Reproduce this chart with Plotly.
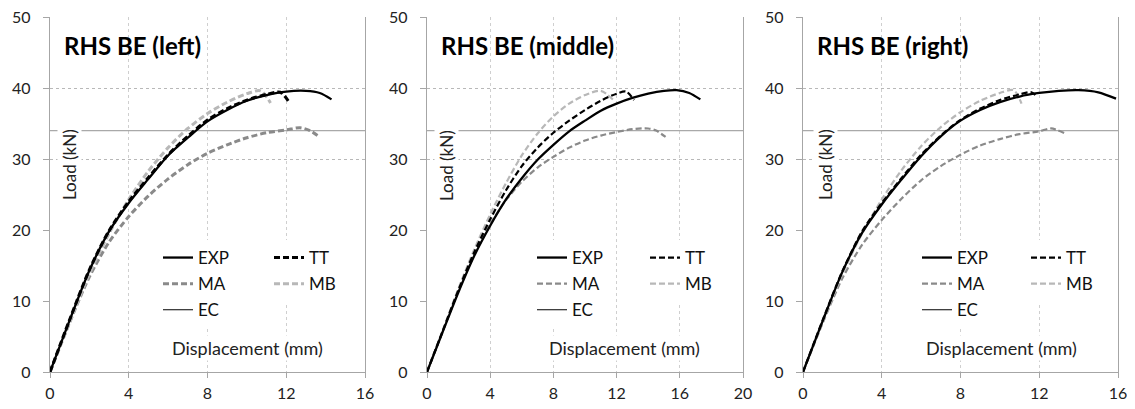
import plotly.graph_objects as go

W, H = 1135, 409          # reference picture size
OFF = 8                   # page body margin offset in the browser
FW, FH = W - OFF, H - OFF # figure size so that figure + page margin fills the window
FONT = "Lato"

# ---------------- data (Displacement mm, Load kN) ----------------
# Panel 1: RHS BE (left)
left_exp_x = [0, 1, 2, 3, 4, 5, 6, 7, 8, 9, 10, 11, 12, 13, 13.7, 14.3]
left_exp_y = [0, 7.3, 14.3, 19.8, 23.8, 27.2, 30.5, 33.0, 35.3, 36.9, 38.2, 39.0, 39.5, 39.6, 39.3, 38.4]
left_tt_x = [0, 1, 2, 3, 4, 5, 6, 7, 8, 9, 10, 11, 11.7, 12.1]
left_tt_y = [0, 7.4, 14.4, 19.9, 24.0, 27.4, 30.6, 33.2, 35.5, 37.1, 38.3, 39.1, 39.4, 38.2]
left_ma_x = [0, 1, 2, 3, 4, 5, 6, 7, 8, 9, 10, 11, 12, 12.7, 13.2, 13.7]
left_ma_y = [0, 7.0, 13.4, 18.3, 21.9, 24.8, 27.2, 29.2, 30.8, 32.0, 33.0, 33.7, 34.1, 34.4, 34.0, 33.1]
left_mb_x = [0, 1, 2, 3, 4, 5, 6, 7, 8, 9, 10, 10.7, 11.2]
left_mb_y = [0, 7.0, 13.8, 19.5, 24.3, 28.3, 31.6, 34.3, 36.4, 38.0, 39.2, 39.6, 37.9]

# Panel 2: RHS BE (middle)
mid_exp_x = [0, 1, 2, 3, 4, 5, 6, 7, 8, 9, 10, 11, 12, 13, 14, 15, 15.8, 16.6, 17.3]
mid_exp_y = [0, 5.7, 11.3, 16.4, 20.6, 24.3, 27.3, 29.9, 32.0, 33.9, 35.4, 36.8, 37.8, 38.6, 39.2, 39.6, 39.7, 39.3, 38.4]
mid_tt_x = [0, 1, 2, 3, 4, 5, 6, 7, 8, 9, 10, 11, 12, 12.6, 13.1]
mid_tt_y = [0, 5.8, 11.6, 16.9, 21.5, 25.6, 29.0, 31.6, 33.7, 35.4, 36.9, 38.2, 39.2, 39.5, 38.3]
mid_ma_x = [0, 1, 2, 3, 4, 5, 6, 7, 8, 9, 10, 11, 12, 13, 14, 14.5, 15.1]
mid_ma_y = [0, 5.8, 11.5, 16.6, 20.8, 24.2, 26.8, 28.8, 30.3, 31.6, 32.6, 33.3, 33.8, 34.2, 34.3, 34.0, 33.1]
mid_mb_x = [0, 1, 2, 3, 4, 5, 6, 7, 8, 9, 10, 11, 11.8]
mid_mb_y = [0, 5.9, 11.8, 17.3, 22.2, 26.6, 30.5, 33.6, 36.0, 37.8, 39.0, 39.6, 38.3]

# Panel 3: RHS BE (right)
right_exp_x = [0, 1, 2, 3, 4, 5, 6, 7, 8, 9, 10, 11, 12, 13, 14, 15, 15.9]
right_exp_y = [0, 7.2, 14.1, 19.6, 23.6, 27.1, 30.4, 33.2, 35.4, 36.9, 38.0, 38.8, 39.3, 39.6, 39.7, 39.4, 38.5]
right_tt_x = [0, 1, 2, 3, 4, 5, 6, 7, 8, 9, 10, 11, 11.6, 11.9]
right_tt_y = [0, 7.3, 14.2, 19.8, 23.8, 27.3, 30.6, 33.3, 35.5, 37.1, 38.3, 39.1, 39.4, 38.7]
right_ma_x = [0, 1, 2, 3, 4, 5, 6, 7, 8, 9, 10, 11, 12, 12.6, 13.3]
right_ma_y = [0, 6.9, 13.2, 17.9, 21.4, 24.4, 27.0, 29.0, 30.6, 31.9, 32.8, 33.5, 33.9, 34.3, 33.6]
right_mb_x = [0, 1, 2, 3, 4, 5, 6, 7, 8, 9, 10, 10.7, 11.1]
right_mb_y = [0, 7.0, 13.8, 19.5, 24.3, 28.4, 31.8, 34.5, 36.6, 38.2, 39.3, 39.7, 37.8]

# EC resistance (horizontal), kN
ec_load = 34.0

titles = ["RHS BE (left)", "RHS BE (middle)", "RHS BE (right)"]
x_max = [16, 20, 16]
y_ticks = [0, 10, 20, 30, 40, 50]

panels = [
    (left_exp_x, left_exp_y, left_tt_x, left_tt_y, left_ma_x, left_ma_y, left_mb_x, left_mb_y),
    (mid_exp_x, mid_exp_y, mid_tt_x, mid_tt_y, mid_ma_x, mid_ma_y, mid_mb_x, mid_mb_y),
    (right_exp_x, right_exp_y, right_tt_x, right_tt_y, right_ma_x, right_ma_y, right_mb_x, right_mb_y),
]

# ---------------- layout geometry (pixels in the reference picture) ----------------
x_left_px = [50, 427, 803]
x_right_px = [365, 743, 1118]
y_top_px, y_bot_px = 17, 372
legend_col1_px = [165, 539, 924]
legend_col2_px = [276, 652, 1033]
legend_top_px = 240
heavy = [True, False, False]


def px(xp):
    return (xp - OFF) / FW


def py(yp):
    return 1 - (yp - OFF) / FH


fig = go.Figure()

for i, (ex, ey, tx, ty, mx, my, bx, by) in enumerate(panels):
    n = "" if i == 0 else str(i + 1)
    xa, ya = "x" + n, "y" + n
    lg1 = "legend" + ("" if i == 0 else str(2 * i + 1))
    lg2 = "legend" + str(2 * i + 2)
    w_dash = 3.0 if heavy[i] else 2.2
    # EC line on plot
    fig.add_trace(go.Scatter(x=[0, x_max[i]], y=[ec_load, ec_load], mode="lines",
                             line=dict(color="#a9a9a9", width=1.3), xaxis=xa, yaxis=ya,
                             showlegend=False, hoverinfo="skip"))
    fig.add_trace(go.Scatter(x=mx, y=my, mode="lines", name="MA", legend=lg1, legendgroup=f"ma{i}",
                             legendrank=2,
                             line=dict(color="#8a8a8a", width=w_dash, dash="6px,3px",
                                       shape="spline", smoothing=0.8), xaxis=xa, yaxis=ya))
    fig.add_trace(go.Scatter(x=bx, y=by, mode="lines", name="MB", legend=lg2, legendgroup=f"mb{i}",
                             legendrank=2,
                             line=dict(color="#b8b8b8", width=w_dash, dash="6px,3px",
                                       shape="spline", smoothing=0.8), xaxis=xa, yaxis=ya))
    fig.add_trace(go.Scatter(x=tx, y=ty, mode="lines", name="TT", legend=lg2, legendgroup=f"tt{i}",
                             legendrank=1,
                             line=dict(color="#000000", width=w_dash, dash="6px,3px",
                                       shape="spline", smoothing=0.8), xaxis=xa, yaxis=ya))
    fig.add_trace(go.Scatter(x=ex, y=ey, mode="lines", name="EXP", legend=lg1, legendgroup=f"exp{i}",
                             legendrank=1,
                             line=dict(color="#000000", width=2.3, shape="spline", smoothing=0.8),
                             xaxis=xa, yaxis=ya))
    # EC legend entry
    fig.add_trace(go.Scatter(x=[None], y=[None], mode="lines", name="EC", legend=lg1, legendgroup=f"ec{i}",
                             legendrank=3,
                             line=dict(color="#000000", width=1), xaxis=xa, yaxis=ya))

    dom_x = [px(x_left_px[i]), px(x_right_px[i])]
    dom_y = [py(y_bot_px), py(y_top_px)]
    fig.layout["xaxis" + n] = dict(
        domain=dom_x, range=[0, x_max[i]], dtick=4, tick0=0, anchor=ya, automargin=False,
        showgrid=True, gridcolor="#cfcfcf", griddash="dot", gridwidth=1,
        showline=True, linecolor="#a6a6a6", linewidth=1.3,
        ticks="outside", ticklen=5, tickcolor="#a6a6a6",
        tickfont=dict(family=FONT, size=16, color="#222"), ticklabelstandoff=2,
        ticklabeloverflow="allow",
        zeroline=False, fixedrange=True,
    )
    fig.layout["yaxis" + n] = dict(
        domain=dom_y, range=[0, 50], tickvals=y_ticks, anchor=xa, automargin=False,
        showgrid=False, showline=True, mirror=True, linecolor="#a6a6a6", linewidth=1.3,
        ticks="outside", ticklen=6, tickcolor="#a6a6a6",
        tickfont=dict(family=FONT, size=16, color="#222"), ticklabelstandoff=9,
        ticklabeloverflow="allow",
        minor=dict(tickvals=[30, 40], showgrid=True, gridcolor="#b8b8b8", griddash="dot", ticklen=0),
        zeroline=False, fixedrange=True,
    )
    for lg, colx in ((lg1, legend_col1_px[i]), (lg2, legend_col2_px[i])):
        fig.layout[lg] = dict(
            x=px(colx - 7), xanchor="left", y=py(legend_top_px), yanchor="top",
            orientation="v", traceorder="grouped", tracegroupgap=1,
            bgcolor="white", borderwidth=0,
            font=dict(family=FONT, size=17, color="#111"),
        )
    fig.add_annotation(text="<b>" + titles[i] + "</b>", xref="paper", yref="paper",
                       x=px(x_left_px[i] + 12), y=py(45), xanchor="left", yanchor="middle",
                       showarrow=False, font=dict(family=FONT, size=24, color="#000"))
    fig.add_annotation(text="Displacement (mm)", xref="paper", yref="paper",
                       x=px([247, 624, 1001][i]), y=py(348), xanchor="center", yanchor="middle",
                       showarrow=False, bgcolor="white", font=dict(family=FONT, size=18, color="#222"))
    fig.add_annotation(text="Load (kN)", xref="paper", yref="paper", textangle=-90,
                       x=px([70, 447, 826][i]), y=py(165), xanchor="center", yanchor="middle",
                       showarrow=False, bgcolor="white", font=dict(family=FONT, size=17, color="#222"))

fig.update_layout(
    width=FW, height=FH, margin=dict(l=0, r=0, t=0, b=0, autoexpand=False),
    paper_bgcolor="white", plot_bgcolor="white", showlegend=True,
    font=dict(family=FONT),
)

fig.write_html("out.html")
